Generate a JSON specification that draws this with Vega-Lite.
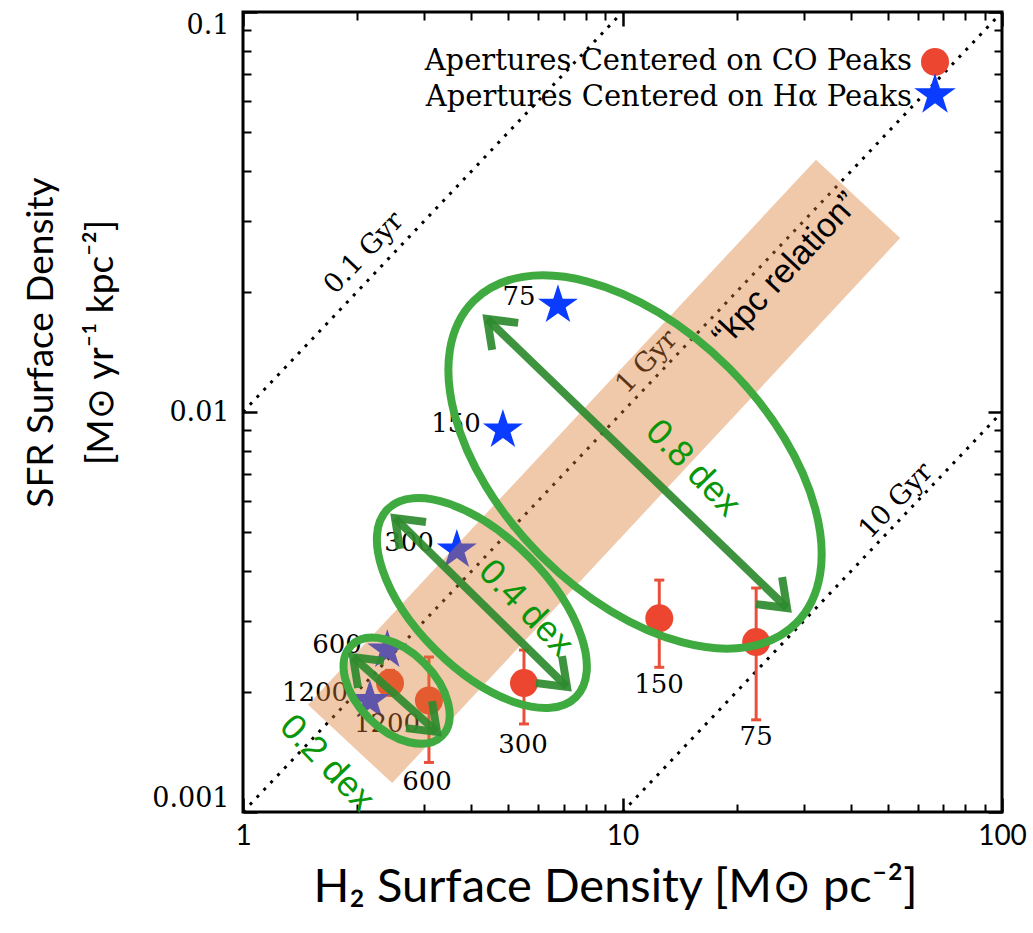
{
 "$schema": "https://vega.github.io/schema/vega-lite/v6.json",
 "width": 759,
 "height": 800,
 "autosize": "none",
 "padding": {"left": 243, "top": 12, "right": 31, "bottom": 121},
 "background": "white",
 "config": {
  "view": {"stroke": "black", "strokeWidth": 3},
  "axis": {"grid": false, "tickColor": "black", "labelColor": "black", "titleColor": "black", "domain": false, "titleFontWeight": "normal", "labelFlush": false, "labelOverlap": false}
 },
 "datasets": {
  "gyr": [{"x": 1, "y": 0.001, "x2": 100, "y2": 0.1}, {"x": 1, "y": 0.01, "x2": 10, "y2": 0.1}, {"x": 10, "y": 0.001, "x2": 100, "y2": 0.01}],
  "gyrlab": [{"t": "0.1 Gyr", "x": 2.084, "y": 0.02497}, {"t": "1 Gyr", "x": 11.6, "y": 0.01334}, {"t": "10 Gyr", "x": 52.6, "y": 0.005991}],
  "co": [
   {"ap": "75", "x": 22.5, "y": 0.00266, "lo": 0.0017, "hi": 0.00363},
   {"ap": "150", "x": 12.5, "y": 0.00305, "lo": 0.0023, "hi": 0.0038},
   {"ap": "300", "x": 5.5, "y": 0.0021, "lo": 0.00166, "hi": 0.00254},
   {"ap": "600", "x": 3.09, "y": 0.0019, "lo": 0.00133, "hi": 0.00244},
   {"ap": "1200", "x": 2.44, "y": 0.0021, "lo": 0.00199, "hi": 0.00226}
  ],
  "ha": [
   {"ap": "75", "x": 6.76, "y": 0.0185},
   {"ap": "150", "x": 4.84, "y": 0.00902},
   {"ap": "300", "x": 3.66, "y": 0.00452},
   {"ap": "600", "x": 2.40, "y": 0.00254},
   {"ap": "1200", "x": 2.16, "y": 0.0019}
  ],
  "aplab": [
   {"t": "75", "x": 5.337, "y": 0.01938},
   {"t": "150", "x": 3.641, "y": 0.009333},
   {"t": "300", "x": 2.738, "y": 0.004705},
   {"t": "600", "x": 1.769, "y": 0.002616},
   {"t": "1200", "x": 1.548, "y": 0.001984},
   {"t": "1200", "x": 2.396, "y": 0.00166},
   {"t": "600", "x": 3.054, "y": 0.001189},
   {"t": "300", "x": 5.468, "y": 0.001471},
   {"t": "150", "x": 12.48, "y": 0.002077},
   {"t": "75", "x": 22.5, "y": 0.00154}
  ],
  "band": [{"x": 1.915, "y": 0.00148, "x2": 41.75, "y2": 0.0341}],
  "kpc": [{"t": "“kpc relation”", "x": 26.97, "y": 0.02265}],
  "ell": [{"id": "0.8", "x": 10.79, "y": 0.0075}, {"id": "0.4", "x": 4.26, "y": 0.00333}, {"id": "0.2", "x": 2.54, "y": 0.00201}],
  "arrows": [
   {"id": "0.8", "x": 4.40, "y": 0.01708, "x2": 27.14, "y2": 0.003236},
   {"id": "0.4", "x": 2.515, "y": 0.00543, "x2": 7.14, "y2": 0.002054},
   {"id": "0.2", "x": 1.95, "y": 0.00244, "x2": 3.245, "y2": 0.001585}
  ],
  "dex": [{"t": "0.8 dex", "x": 15.34, "y": 0.007244}, {"t": "0.4 dex", "x": 5.569, "y": 0.003236}, {"t": "0.2 dex", "x": 1.665, "y": 0.001326}],
  "legend": [
   {"t": "Apertures Centered on CO Peaks", "x": 57.9, "y": 0.0754, "sx": 66.6, "sy": 0.075, "kind": "co"},
   {"t": "Apertures Centered on Hα Peaks", "x": 57.9, "y": 0.0613, "sx": 66.6, "sy": 0.062, "kind": "ha"}
  ]
 },
 "encoding": {
  "x": {"field": "x", "type": "quantitative", "scale": {"type": "log", "domain": [1, 100], "nice": false, "zero": false}, "axis": null},
  "y": {"field": "y", "type": "quantitative", "scale": {"type": "log", "domain": [0.001, 0.1], "nice": false, "zero": false}, "axis": null}
 },
 "layer": [
  {
   "data": {"name": "gyr"},
   "mark": {"type": "rule", "color": "black", "strokeWidth": 3, "strokeDash": [3, 7]},
   "encoding": {
    "x": {"field": "x", "type": "quantitative", "scale": {"type": "log", "domain": [1, 100], "nice": false, "zero": false},
     "axis": {"orient": "bottom", "values": [1, 10, 100], "format": "~g", "tickSize": -14, "tickWidth": 2.5, "labelFont": "Lato", "labelFontSize": 28, "labelPadding": 24,
      "title": "H₂ Surface Density [M⊙ pc⁻²]", "titleFont": "Lato", "titleFontSize": 47, "titleX": 372, "titleY": 89, "titleAlign": "center", "titleBaseline": "alphabetic", "titleAngle": 0}},
    "x2": {"field": "x2"},
    "y": {"field": "y", "type": "quantitative", "scale": {"type": "log", "domain": [0.001, 0.1], "nice": false, "zero": false},
     "axis": {"orient": "left", "values": [0.001, 0.01, 0.1], "format": "~g", "tickSize": -14, "tickWidth": 2.5, "labelFont": "DejaVu Serif", "labelFontSize": 27, "labelPadding": 28, "labelFlush": true,
      "title": ["SFR Surface Density", "[M⊙ yr⁻¹ kpc⁻²]"], "titleFont": "Lato", "titleFontSize": 37, "titleLineHeight": 60, "titleAngle": 270, "titleX": -191, "titleY": 330, "titleAlign": "center", "titleBaseline": "alphabetic"}},
    "y2": {"field": "y2"}
   }
  },
  {
   "data": {"name": "co"},
   "mark": {"type": "rule", "color": "#E8503A", "strokeWidth": 3},
   "encoding": {
    "x": {"field": "x", "type": "quantitative", "scale": {"type": "log", "domain": [1, 100], "nice": false, "zero": false},
     "axis": {"orient": "top", "values": [1, 10, 100], "tickSize": -14, "tickWidth": 2.5, "labels": false, "title": null}},
    "y": {"field": "lo", "type": "quantitative", "scale": {"type": "log", "domain": [0.001, 0.1], "nice": false, "zero": false},
     "axis": {"orient": "right", "values": [0.001, 0.01, 0.1], "tickSize": -14, "tickWidth": 2.5, "labels": false, "title": null}},
    "y2": {"field": "hi"}
   }
  },
  {
   "data": {"name": "co"},
   "mark": {"type": "point", "shape": "stroke", "size": 100, "color": "#E8503A", "strokeWidth": 3, "opacity": 1},
   "encoding": {
    "x": {"field": "x", "type": "quantitative", "scale": {"type": "log", "domain": [1, 100], "nice": false, "zero": false},
     "axis": {"orient": "bottom", "values": [2, 3, 4, 5, 6, 7, 8, 9, 20, 30, 40, 50, 60, 70, 80, 90], "tickSize": -8, "tickWidth": 2, "labels": false, "title": null}},
    "y": {"field": "lo", "type": "quantitative", "scale": {"type": "log", "domain": [0.001, 0.1], "nice": false, "zero": false},
     "axis": {"orient": "left", "values": [0.002, 0.003, 0.004, 0.005, 0.006, 0.007, 0.008, 0.009, 0.02, 0.03, 0.04, 0.05, 0.06, 0.07, 0.08, 0.09], "tickSize": -8, "tickWidth": 2, "labels": false, "title": null}}
   }
  },
  {
   "data": {"name": "co"},
   "mark": {"type": "point", "shape": "stroke", "size": 100, "color": "#E8503A", "strokeWidth": 3, "opacity": 1},
   "encoding": {
    "x": {"field": "x", "type": "quantitative", "scale": {"type": "log", "domain": [1, 100], "nice": false, "zero": false},
     "axis": {"orient": "top", "values": [2, 3, 4, 5, 6, 7, 8, 9, 20, 30, 40, 50, 60, 70, 80, 90], "tickSize": -8, "tickWidth": 2, "labels": false, "title": null}},
    "y": {"field": "hi", "type": "quantitative", "scale": {"type": "log", "domain": [0.001, 0.1], "nice": false, "zero": false},
     "axis": {"orient": "right", "values": [0.002, 0.003, 0.004, 0.005, 0.006, 0.007, 0.008, 0.009, 0.02, 0.03, 0.04, 0.05, 0.06, 0.07, 0.08, 0.09], "tickSize": -8, "tickWidth": 2, "labels": false, "title": null}}
   }
  },
  {
   "data": {"name": "gyrlab"},
   "mark": {"type": "text", "font": "DejaVu Serif", "fontSize": 27, "angle": 313.5, "align": "center", "baseline": "middle", "color": "black"},
   "encoding": {"text": {"field": "t"}}
  },
  {
   "data": {"name": "co"},
   "mark": {"type": "point", "shape": "circle", "size": 784, "filled": true, "color": "#EC4630", "opacity": 1},
   "encoding": {}
  },
  {
   "data": {"name": "ha"},
   "mark": {"type": "point", "shape": "M0,-1L0.2245,-0.309L0.9511,-0.309L0.3633,0.118L0.5878,0.809L0,0.382L-0.5878,0.809L-0.3633,0.118L-0.9511,-0.309L-0.2245,-0.309Z", "size": 1764, "filled": true, "color": "#0A3CFF", "opacity": 1},
   "encoding": {}
  },
  {
   "data": {"name": "aplab"},
   "mark": {"type": "text", "font": "DejaVu Serif", "fontSize": 26, "align": "center", "baseline": "middle", "color": "black"},
   "encoding": {"text": {"field": "t"}}
  },
  {
   "data": {"name": "band"},
   "mark": {"type": "rule", "color": "#DB7A31", "opacity": 0.41, "strokeWidth": 115, "strokeCap": "butt"},
   "encoding": {"x2": {"field": "x2"}, "y2": {"field": "y2"}}
  },
  {
   "data": {"name": "kpc"},
   "mark": {"type": "text", "font": "Liberation Sans", "fontSize": 34, "angle": 313, "align": "center", "baseline": "middle", "color": "black"},
   "encoding": {"text": {"field": "t"}}
  },
  {
   "data": {"name": "ell"},
   "transform": [{"filter": "datum.id == '0.8'"}],
   "mark": {"type": "point", "shape": "M-1,0A1,0.583,0,1,0,1,0A1,0.583,0,1,0,-1,0Z", "size": 207936, "angle": 45, "filled": false, "color": "#3FAA3F", "strokeWidth": 8, "opacity": 1},
   "encoding": {}
  },
  {
   "data": {"name": "ell"},
   "transform": [{"filter": "datum.id == '0.4'"}],
   "mark": {"type": "point", "shape": "M-1,0A1,0.496,0,1,0,1,0A1,0.496,0,1,0,-1,0Z", "size": 70756, "angle": 45, "filled": false, "color": "#3FAA3F", "strokeWidth": 8, "opacity": 1},
   "encoding": {}
  },
  {
   "data": {"name": "ell"},
   "transform": [{"filter": "datum.id == '0.2'"}],
   "mark": {"type": "point", "shape": "M-1,0A1,0.61,0,1,0,1,0A1,0.61,0,1,0,-1,0Z", "size": 16384, "angle": 45, "filled": false, "color": "#3FAA3F", "strokeWidth": 8, "opacity": 1},
   "encoding": {}
  },
  {
   "data": {"name": "arrows"},
   "mark": {"type": "rule", "color": "#2E8B2E", "strokeWidth": 8, "opacity": 0.92},
   "encoding": {"x2": {"field": "x2"}, "y2": {"field": "y2"}}
  },
  {
   "data": {"name": "arrows"},
   "mark": {"type": "point", "shape": "M-1,-0.75L0,0L-1,0.75", "size": 2500, "angle": 44, "filled": false, "color": "#2E8B2E", "strokeWidth": 8, "opacity": 0.92},
   "encoding": {"x": {"field": "x2", "type": "quantitative", "scale": {"type": "log", "domain": [1, 100], "nice": false, "zero": false}, "axis": null},
                "y": {"field": "y2", "type": "quantitative", "scale": {"type": "log", "domain": [0.001, 0.1], "nice": false, "zero": false}, "axis": null}}
  },
  {
   "data": {"name": "arrows"},
   "mark": {"type": "point", "shape": "M-1,-0.75L0,0L-1,0.75", "size": 2500, "angle": 224, "filled": false, "color": "#2E8B2E", "strokeWidth": 8, "opacity": 0.92},
   "encoding": {}
  },
  {
   "data": {"name": "dex"},
   "mark": {"type": "text", "font": "Liberation Sans", "fontSize": 36, "angle": 46, "align": "center", "baseline": "middle", "color": "#0A960A"},
   "encoding": {"text": {"field": "t"}}
  },
  {
   "data": {"name": "legend"},
   "mark": {"type": "text", "font": "DejaVu Serif", "fontSize": 29, "align": "right", "baseline": "middle", "color": "black"},
   "encoding": {"text": {"field": "t"}}
  },
  {
   "data": {"name": "legend"},
   "transform": [{"filter": "datum.kind == 'co'"}],
   "mark": {"type": "point", "shape": "circle", "size": 784, "filled": true, "color": "#EC4630", "opacity": 1},
   "encoding": {"x": {"field": "sx", "type": "quantitative", "scale": {"type": "log", "domain": [1, 100], "nice": false, "zero": false}, "axis": null},
                "y": {"field": "sy", "type": "quantitative", "scale": {"type": "log", "domain": [0.001, 0.1], "nice": false, "zero": false}, "axis": null}}
  },
  {
   "data": {"name": "legend"},
   "transform": [{"filter": "datum.kind == 'ha'"}],
   "mark": {"type": "point", "shape": "M0,-1L0.2245,-0.309L0.9511,-0.309L0.3633,0.118L0.5878,0.809L0,0.382L-0.5878,0.809L-0.3633,0.118L-0.9511,-0.309L-0.2245,-0.309Z", "size": 1900, "filled": true, "color": "#0A3CFF", "opacity": 1},
   "encoding": {"x": {"field": "sx", "type": "quantitative", "scale": {"type": "log", "domain": [1, 100], "nice": false, "zero": false}, "axis": null},
                "y": {"field": "sy", "type": "quantitative", "scale": {"type": "log", "domain": [0.001, 0.1], "nice": false, "zero": false}, "axis": null}}
  }
 ]
}
